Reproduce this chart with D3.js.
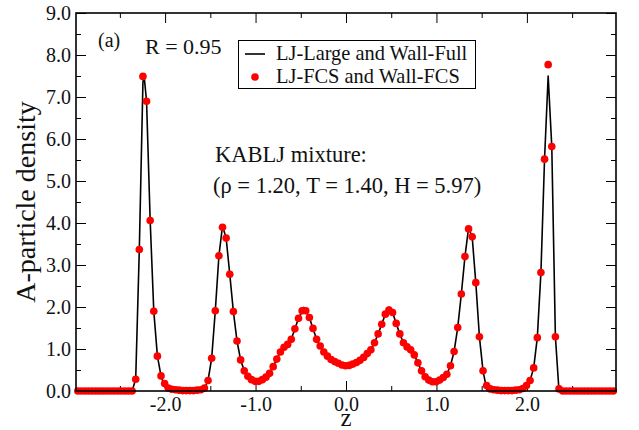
<!DOCTYPE html>
<html><head><meta charset="utf-8">
<script src="https://cdn.jsdelivr.net/npm/d3@7"></script>
<style>
body{margin:0;background:#fff}
svg text{font-family:"Liberation Serif",Tinos,"Times New Roman",Times,"Nimbus Roman","DejaVu Serif",serif !important;fill:#111}
</style>
</head><body>
<svg id="c" width="639" height="430"></svg>
<script>
// z positions of the bins
const zGrid = [
-2.965,-2.925,-2.885,-2.845,-2.805,-2.765,-2.725,-2.685,-2.645,-2.605,
-2.565,-2.525,-2.485,-2.445,-2.405,-2.365,-2.325,-2.285,-2.245,-2.205,
-2.165,-2.125,-2.085,-2.045,-2.005,-1.965,-1.925,-1.885,-1.845,-1.805,
-1.765,-1.725,-1.685,-1.645,-1.605,-1.565,-1.525,-1.485,-1.445,-1.405,
-1.365,-1.325,-1.285,-1.245,-1.205,-1.165,-1.125,-1.085,-1.045,-1.005,
-0.965,-0.925,-0.885,-0.845,-0.805,-0.765,-0.725,-0.685,-0.645,-0.605,
-0.565,-0.525,-0.485,-0.445,-0.405,-0.365,-0.325,-0.285,-0.245,-0.205,
-0.165,-0.125,-0.085,-0.045,-0.005,0.035,0.075,0.115,0.155,0.195,
0.235,0.275,0.315,0.355,0.395,0.435,0.475,0.515,0.555,0.595,
0.635,0.675,0.715,0.755,0.795,0.835,0.875,0.915,0.955,0.995,
1.035,1.075,1.115,1.155,1.195,1.235,1.275,1.315,1.355,1.395,
1.435,1.475,1.515,1.555,1.595,1.635,1.675,1.715,1.755,1.795,
1.835,1.875,1.915,1.955,1.995,2.035,2.075,2.115,2.155,2.195,
2.235,2.275,2.315,2.355,2.395,2.435,2.475,2.515,2.555,2.595,
2.635,2.675,2.715,2.755,2.795,2.835,2.875,2.915,2.955];

// LJ-FCS and Wall-FCS (red dots)
const fcsDensity = [
0,0,0,0,0,0,0,0,0,0,
0,0,0,0,0,0,0.28,3.37,7.49,6.90,
4.06,1.90,0.83,0.36,0.18,0.07,0.04,0.03,0.02,0.01,
0.01,0.01,0.01,0.02,0.03,0.07,0.25,0.78,1.91,3.22,
3.90,3.64,2.78,1.89,1.19,0.74,0.48,0.35,0.27,0.23,
0.23,0.27,0.33,0.42,0.58,0.76,0.93,1.04,1.11,1.23,
1.48,1.73,1.91,1.91,1.75,1.49,1.23,1.07,0.93,0.83,
0.75,0.70,0.66,0.62,0.60,0.61,0.64,0.68,0.73,0.80,
0.89,0.98,1.15,1.36,1.59,1.83,1.93,1.87,1.61,1.36,
1.15,1.05,0.98,0.86,0.67,0.48,0.34,0.26,0.22,0.22,
0.26,0.32,0.40,0.60,0.94,1.51,2.31,3.20,3.86,3.67,
2.58,1.29,0.48,0.13,0.05,0.03,0.02,0.01,0.01,0.01,
0.01,0.02,0.03,0.06,0.13,0.25,0.55,1.27,2.82,5.52,
7.77,5.82,1.29,0.05,0,0,0,0,0,0,
0,0,0,0,0,0,0,0,0];

// LJ-Large and Wall-Full (black line)
const largeDensity = [
0,0,0,0,0,0,0,0,0,0,
0,0,0,0,0,0,0.28,3.37,7.35,6.90,
4.06,1.90,0.83,0.36,0.10,0.02,0,0,0,0,
0,0,0,0,0.01,0.06,0.25,0.78,1.91,3.22,
3.93,3.64,2.78,1.89,1.19,0.74,0.48,0.35,0.27,0.23,
0.23,0.27,0.33,0.42,0.58,0.76,0.93,1.04,1.11,1.23,
1.48,1.73,1.90,1.90,1.75,1.49,1.23,1.07,0.93,0.83,
0.75,0.70,0.66,0.62,0.60,0.61,0.64,0.68,0.73,0.80,
0.89,0.98,1.15,1.36,1.59,1.83,2.00,1.87,1.61,1.36,
1.15,1.05,0.98,0.86,0.67,0.48,0.34,0.26,0.22,0.22,
0.26,0.32,0.40,0.60,0.94,1.51,2.31,3.20,3.88,3.67,
2.58,1.29,0.48,0.04,0,0,0,0,0,0,
0,0,0,0.02,0.10,0.25,0.55,1.27,2.82,5.52,
7.50,5.82,1.29,0,0,0,0,0,0,0,
0,0,0,0,0,0,0,0,0];
const largeExtraZ = [-2.232, -0.466];
const largeExtraDensity = [7.50, 1.99];

const xMajorTicks = [-2, -1, 0, 1, 2];
const xTickLabels = ["-2.0", "-1.0", "0.0", "1.0", "2.0"];
const xMinorTicks = [-2.5, -1.5, -0.5, 0.5, 1.5, 2.5];
const yMajorTicks = [0,1,2,3,4,5,6,7,8,9];
const yTickLabels = ["0.0","1.0","2.0","3.0","4.0","5.0","6.0","7.0","8.0","9.0"];
const yMinorTicks = [0.5,1.5,2.5,3.5,4.5,5.5,6.5,7.5,8.5];
const legendLabels = ["LJ-Large and Wall-Full", "LJ-FCS and Wall-FCS"];

const SERIF = '"Liberation Serif", Tinos, "Times New Roman", Times, "Nimbus Roman", "DejaVu Serif", serif';
const L = 76, R = 616, T = 13, B = 391;
const svg = d3.select("#c");
const x = d3.scaleLinear().domain([-2.985, 2.985]).range([L, R]);
const y = d3.scaleLinear().domain([0, 9]).range([B, T]);

function styleAxis(g){
  g.attr("font-family", SERIF);
  g.select(".domain").remove();
  g.selectAll("line").attr("stroke","#000").attr("stroke-width",1);
}
function styleLabels(g){ g.selectAll("text").attr("font-size",20).attr("font-family",SERIF).attr("fill","#111"); }

svg.append("g").attr("transform",`translate(0,${B})`)
  .call(d3.axisBottom(x).tickValues(xMajorTicks).tickSize(-10).tickPadding(6).tickFormat((d,i)=>xTickLabels[i]))
  .call(styleAxis).call(styleLabels);
svg.append("g").attr("transform",`translate(0,${B})`)
  .call(d3.axisBottom(x).tickValues(xMinorTicks).tickSize(-5).tickFormat("")).call(styleAxis);
svg.append("g").attr("transform",`translate(0,${T})`)
  .call(d3.axisTop(x).tickValues(xMajorTicks).tickSize(-10).tickFormat("")).call(styleAxis);
svg.append("g").attr("transform",`translate(0,${T})`)
  .call(d3.axisTop(x).tickValues(xMinorTicks).tickSize(-5).tickFormat("")).call(styleAxis);
svg.append("g").attr("transform",`translate(${L},0)`)
  .call(d3.axisLeft(y).tickValues(yMajorTicks).tickSize(-10).tickPadding(5).tickFormat((d,i)=>yTickLabels[i]))
  .call(styleAxis).call(styleLabels);
svg.append("g").attr("transform",`translate(${L},0)`)
  .call(d3.axisLeft(y).tickValues(yMinorTicks).tickSize(-5).tickFormat("")).call(styleAxis);
svg.append("g").attr("transform",`translate(${R},0)`)
  .call(d3.axisRight(y).tickValues(yMajorTicks).tickSize(-10).tickFormat("")).call(styleAxis);
svg.append("g").attr("transform",`translate(${R},0)`)
  .call(d3.axisRight(y).tickValues(yMinorTicks).tickSize(-5).tickFormat("")).call(styleAxis);

const lineData = zGrid.map((z,i)=>[z, largeDensity[i]])
  .concat(largeExtraZ.map((z,i)=>[z, largeExtraDensity[i]]))
  .sort((a,b)=>a[0]-b[0]);
svg.append("path").datum(lineData)
  .attr("fill","none").attr("stroke","#000").attr("stroke-width",1.6).attr("stroke-linejoin","round")
  .attr("d", d3.line().x(d=>x(d[0])).y(d=>y(d[1])));

svg.append("g").selectAll("circle").data(zGrid.map((z,i)=>[z, fcsDensity[i]])).join("circle")
  .attr("cx",d=>x(d[0])).attr("cy",d=>y(d[1])).attr("r",3.8).attr("fill","#ff0000");

svg.append("rect").attr("x",L).attr("y",T).attr("width",R-L).attr("height",B-T)
  .attr("fill","none").attr("stroke","#000").attr("stroke-width",1.6);

function txt(xp, yp, size, s, anchor){
  return svg.append("text").attr("x",xp).attr("y",yp).attr("font-size",size)
    .attr("font-family",SERIF).attr("text-anchor",anchor||"start").text(s);
}
txt(346, 426, 25, "z", "middle");
svg.append("text").attr("transform","translate(35,202) rotate(-90)").attr("text-anchor","middle")
  .attr("font-family",SERIF).attr("font-size",28).text("A-particle density");

txt(98, 47, 20, "(a)");
txt(145, 54, 22, "R = 0.95");
txt(215, 162, 22.5, "KABLJ mixture:");
txt(213, 193, 22.5, "(ρ = 1.20, T = 1.40, H = 5.97)");

const lg = svg.append("g");
lg.append("rect").attr("x",238.5).attr("y",40.5).attr("width",237).attr("height",48)
  .attr("fill","#fff").attr("stroke","#000").attr("stroke-width",1);
lg.append("line").attr("x1",245).attr("x2",265).attr("y1",54).attr("y2",54).attr("stroke","#000").attr("stroke-width",1.6);
lg.append("circle").attr("cx",255).attr("cy",77).attr("r",3.8).attr("fill","#ff0000");
txt(276, 60, 20.4, legendLabels[0]);
txt(276, 83, 20.4, legendLabels[1]);
</script>
</body></html>
